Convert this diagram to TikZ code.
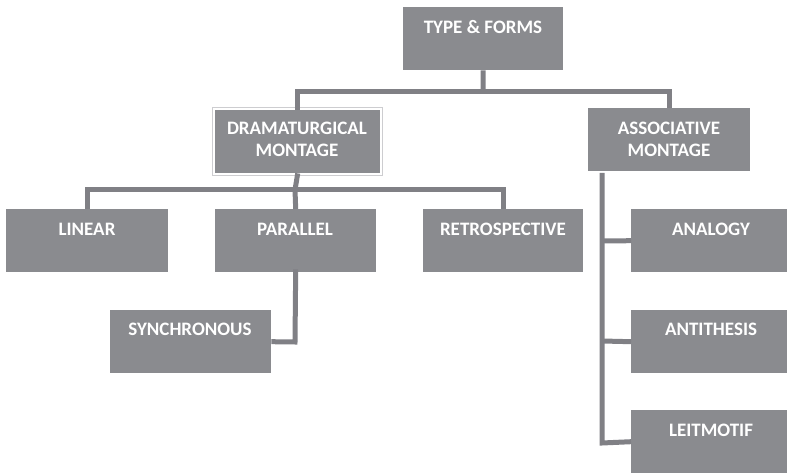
\documentclass[tikz,border=0pt]{standalone}
\usepackage{fontspec}
\setmainfont{Carlito}
\definecolor{boxgray}{RGB}{138,139,143}
\definecolor{linegray}{RGB}{128,128,133}
\definecolor{rimgray}{RGB}{205,205,208}
\begin{document}
\begin{tikzpicture}[x=1pt,y=-1pt,
  box/.style={fill=boxgray, draw=none, anchor=north west, inner sep=0pt,
    minimum width=#1, minimum height=63pt},
  box/.default=161pt,
  lab/.style={text=white, inner sep=0pt, align=center,
    font=\bfseries\fontsize{19}{22}\selectfont},
  conn/.style={draw=linegray, line width=5pt, line join=miter}]
\useasboundingbox (0,0) rectangle (787,473);
\clip (0,0) rectangle (787,473);
% boxes
\node[box=160pt] (tf) at (403,7) {};
\node[box=165pt] (dm) at (215,110) {};
\draw[rimgray, line width=0.8pt] (212.5,107.5) rectangle (382.5,175.5);
\node[box=162pt] (ac) at (588,108) {};
\node[box=162pt] (li) at (6,209) {};
\node[box=161pt] (pa) at (215,209) {};
\node[box=160pt] (re) at (423,209) {};
\node[box=161pt] (sy) at (110,310) {};
\node[box=160pt] (an) at (631,209) {};
\node[box=160pt] (at) at (631,310) {};
\node[box=160pt] (lm) at (631,410) {};
% labels
\node[lab] (tft) at (483,27) {TYPE \& FORMS};
\node[lab] (dmt) at (297,139) {DRAMATURGICAL\\MONTAGE};
\node[lab] (act) at (669,139) {ASSOCIATIVE\\MONTAGE};
\node[lab] (lit) at (87,229) {LINEAR};
\node[lab] (pat) at (295,229) {PARALLEL};
\node[lab] (ret) at (503,229) {RETROSPECTIVE};
\node[lab] (syt) at (190,329) {SYNCHRONOUS};
\node[lab] (ant) at (711,229) {ANALOGY};
\node[lab] (att) at (711,329) {ANTITHESIS};
\node[lab] (lmt) at (711,430) {LEITMOTIF};
% junctions
\coordinate (j1) at (483,92);
\coordinate (j2) at (295,190);
\coordinate (j3) at (602,443);
\coordinate (j4) at (295,342);
% connectors
\draw[conn] (tf.south) -- (j1);
\draw[conn] (j1) -| (dm.north);
\draw[conn] (j1) -| (ac.north);
\draw[conn] (dm.south) -- (j2);
\draw[conn] (j2) -| (li.north);
\draw[conn] (j2) -- (pa.north);
\draw[conn] (j2) -| (re.north);
\draw[conn] ([yshift=3pt]pa.south) -- (j4) -- (sy.east);
\draw[conn] (602,173) -- (j3) -- (lm.west);
\draw[conn] (602,241) -- (an.west);
\draw[conn] (602,341) -- (at.west);
\end{tikzpicture}
\end{document}
